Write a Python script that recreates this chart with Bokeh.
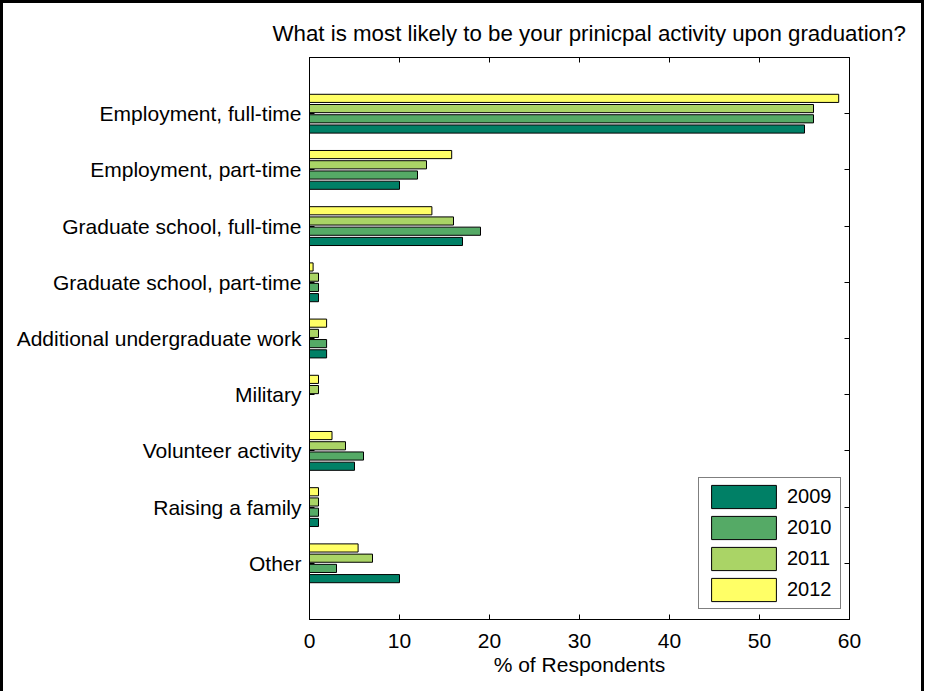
from bokeh.plotting import figure
from bokeh.models import (Range1d, FixedTicker, LinearAxis, Legend, LegendItem,
                          ColumnDataSource)
from bokeh.transform import dodge
from bokeh.embed import file_html
from bokeh.resources import INLINE

# ---------------- data ----------------
title_text = "What is most likely to be your prinicpal activity upon graduation?"
x_label = "% of Respondents"
categories = [
    "Employment, full-time",
    "Employment, part-time",
    "Graduate school, full-time",
    "Graduate school, part-time",
    "Additional undergraduate work",
    "Military",
    "Volunteer activity",
    "Raising a family",
    "Other",
]
years = ["2009", "2010", "2011", "2012"]
v2009 = [55.0, 10.0, 17.0, 1.0, 1.9, 0.0, 5.0, 1.0, 10.0]
v2010 = [56.0, 12.0, 19.0, 1.0, 1.9, 0.0, 6.0, 1.0, 3.0]
v2011 = [56.0, 13.0, 16.0, 1.0, 1.0, 1.0, 4.0, 1.0, 7.0]
v2012 = [58.8, 15.8, 13.6, 0.4, 1.9, 1.0, 2.5, 1.0, 5.4]
x_ticks = [0, 10, 20, 30, 40, 50, 60]

# ---------------- styling ----------------
colors = ["#008066", "#55AA66", "#AAD466", "#FFFF66"]
offsets = [0.273, 0.091, -0.091, -0.273]   # grouped barh layout
bar_h = 0.145
FONT = "Liberation Sans"

pos = list(range(1, len(categories) + 1))
src = ColumnDataSource(dict(pos=pos, y2009=v2009, y2010=v2010, y2011=v2011, y2012=v2012))

p = figure(width=924, height=691, output_backend="svg", toolbar_location=None,
           x_range=Range1d(0, 60), y_range=Range1d(len(categories) + 1, 0),
           min_border_left=306, min_border_right=78, min_border_top=54, min_border_bottom=75,
           background_fill_color="white", border_fill_color="white")
p.styles = {"border-left": "3px solid black", "border-top": "3px solid black",
            "border-right": "3px solid black"}

p.title.text = title_text
p.title.text_font = FONT
p.title.text_font_size = "22.3px"
p.title.text_font_style = "normal"
p.title.text_color = "black"
p.title.align = "left"
p.title.offset = -37
p.title.standoff = 24

p.xgrid.visible = False
p.ygrid.visible = False
p.outline_line_color = "black"
p.outline_line_width = 1

renderers = []
cols = ["y2009", "y2010", "y2011", "y2012"]
for col, c, off in zip(cols, colors, offsets):
    r = p.hbar(y=dodge("pos", off, range=p.y_range), left=0, right=col, height=bar_h,
               fill_color=c, line_color="black", line_width=1, source=src)
    renderers.append(r)

# axes
xax = p.xaxis[0]
xax.ticker = FixedTicker(ticks=x_ticks)
xax.axis_label = x_label
yax = p.yaxis[0]
yax.ticker = FixedTicker(ticks=pos)
yax.major_label_overrides = {i: c for i, c in zip(pos, categories)}

for ax in (xax, yax):
    ax.major_tick_in = 5
    ax.major_tick_out = 0
    ax.minor_tick_line_color = None
    ax.axis_line_color = "black"
    ax.major_tick_line_color = "black"
    ax.major_label_text_font = FONT
    ax.major_label_text_color = "black"
    ax.axis_label_text_font = FONT
    ax.axis_label_text_font_style = "normal"
    ax.axis_label_text_font_size = "21px"
    ax.axis_label_text_color = "black"

xax.major_label_text_font_size = "21px"
xax.major_label_standoff = 14
xax.axis_label_standoff = 2
yax.major_label_text_font_size = "21px"
yax.major_label_standoff = 8

top = LinearAxis(ticker=FixedTicker(ticks=x_ticks))
top.major_label_overrides = {t: "" for t in x_ticks}
right = LinearAxis(ticker=FixedTicker(ticks=pos))
right.major_label_overrides = {t: "" for t in pos}
for ax in (top, right):
    ax.major_tick_in = 5
    ax.major_tick_out = 0
    ax.minor_tick_line_color = None
    ax.major_label_standoff = 0
    ax.axis_line_color = "black"
    ax.major_tick_line_color = "black"
p.add_layout(top, "above")
p.add_layout(right, "right")

legend = Legend(items=[LegendItem(label=y, renderers=[r]) for y, r in zip(years, renderers)],
                location=(389, 10), orientation="vertical",
                glyph_width=81, glyph_height=29, spacing=2, padding=4, margin=0,
                label_standoff=3, label_width=49,
                label_text_font=FONT, label_text_font_size="20px", label_text_color="black",
                border_line_color="black", border_line_width=1,
                background_fill_color="white", background_fill_alpha=1.0)
p.add_layout(legend, "center")

open("out.html", "w").write(file_html(p, INLINE))
